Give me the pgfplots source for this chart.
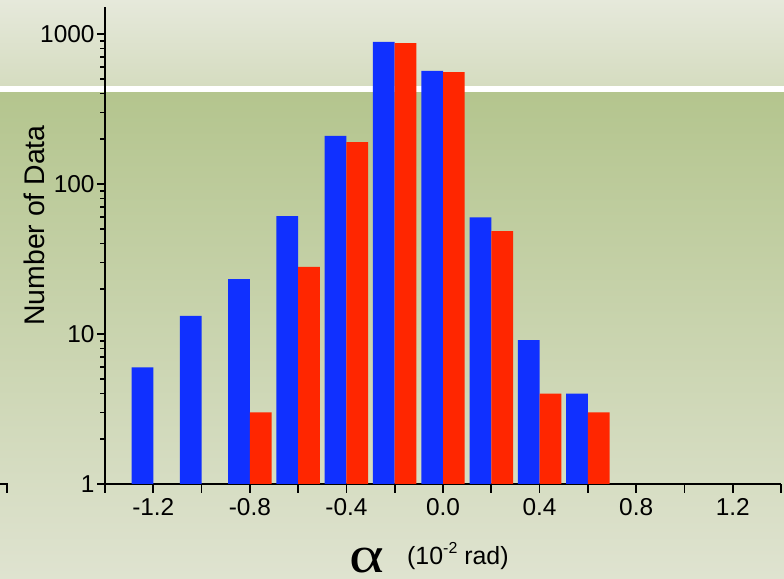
\documentclass[border=0pt]{standalone}
\usepackage{fontspec}
\setmainfont{Liberation Sans}
\newfontfamily\serifgreek{Liberation Serif}
\usepackage{pgfplots}
\pgfplotsset{compat=1.18}

\definecolor{barblue}{RGB}{16,48,255}
\definecolor{barred}{RGB}{255,38,0}
\definecolor{bgTopA}{RGB}{230,233,219}
\definecolor{bgTopB}{RGB}{213,220,192}
\definecolor{bgLowA}{RGB}{180,197,142}
\definecolor{bgLowM}{RGB}{200,209,167}
\definecolor{bgLowB}{RGB}{223,227,208}

\begin{document}
\begin{tikzpicture}[x=1bp,y=1bp]
\useasboundingbox (0,0) rectangle (784,579);
% background bands
\shade[top color=bgTopA, bottom color=bgTopB] (0,493) rectangle (784,579);
\fill[white] (0,486) rectangle (784,493);
\shade[top color=bgLowA, middle color=bgLowM, bottom color=bgLowB] (0,0) rectangle (784,486);
% fragment of the neighbouring frame on the left
\draw[line width=1.6bp] (0,95) -- (8,95);
\draw[line width=1.6bp] (7,95) -- (7,86);

\begin{axis}[
  at={(105bp,95bp)}, anchor=south west,
  scale only axis, width=676bp, height=477bp,
  xmin=-1.4, xmax=1.4,
  ymode=log, ymin=1, ymax=1514,
  axis x line=bottom, axis y line=left,
  axis line style={-, line width=1.6bp, black},
  every tick/.style={black, line width=1.6bp},
  tick align=outside,
  xtick={-1.4,-1.2,-1.0,-0.8,-0.6,-0.4,-0.2,0,0.2,0.4,0.6,0.8,1.0,1.2,1.4},
  xticklabels={,-1.2,,-0.8,,-0.4,,0.0,,0.4,,0.8,,1.2,},
  ytick={1,10,100,1000},
  yticklabels={1,10,100,1000},
  minor ytick={2,3,4,5,6,7,8,9,20,30,40,50,60,70,80,90,200,300,400,500,600,700,800,900},
  major tick length=8bp, minor tick length=5bp,
  x tick style={/pgfplots/major tick length=9bp},
  ticklabel style={font=\fontsize{24.5}{24.5}\selectfont},
  xticklabel style={yshift=-3bp},
  yticklabel style={xshift=1bp},
  ybar, bar width=0.09,
  log origin=infty,
  clip=false,
]
\addplot[fill=barblue, draw=none, bar shift=-0.045] coordinates {
  (-1.2,6.0) (-1.0,13.2) (-0.8,23.2) (-0.6,61) (-0.4,209)
  (-0.2,885) (0.0,567) (0.2,60) (0.4,9.1) (0.6,4.0)
};
\addplot[fill=barred, draw=none, bar shift=0.045] coordinates {
  (-0.8,3) (-0.6,28) (-0.4,190) (-0.2,870)
  (0.0,558) (0.2,48.6) (0.4,4) (0.6,3)
};
\end{axis}

\node[rotate=90, font=\fontsize{28.5}{28.5}\selectfont] at (34,353.5) {Number of Data};
\node[anchor=base, font=\serifgreek\fontsize{50}{50}\selectfont, inner sep=0] at (367,6.8)
  {\scalebox{1.33}[1.04]{α}};
\node[anchor=base west, font=\fontsize{25}{25}\selectfont, inner sep=0] at (407,14.7)
  {(10\raisebox{0.42em}{\fontsize{16}{16}\selectfont -2} rad)};
\end{tikzpicture}
\end{document}
